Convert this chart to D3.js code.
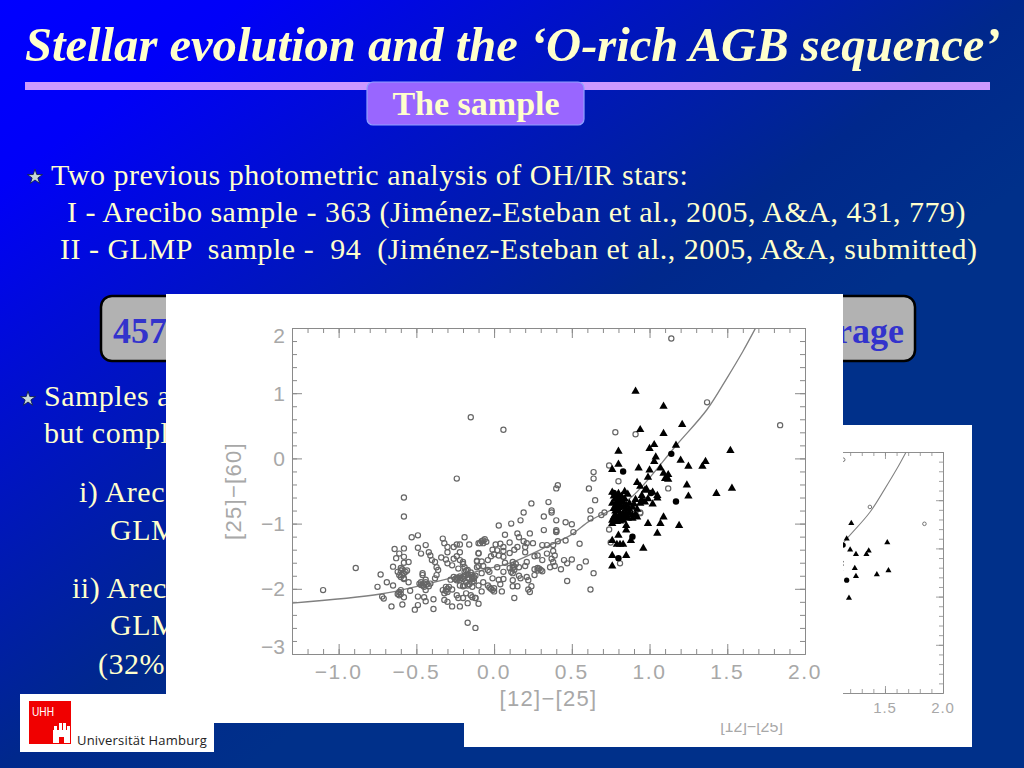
<!DOCTYPE html>
<html><head><meta charset="utf-8">
<style>html,body{margin:0;padding:0;background:#00308a;overflow:hidden}svg{display:block}</style>
<script src="https://cdn.jsdelivr.net/npm/d3@7"></script></head><body><div id="c"></div>
<script>
const openStars=[[-1.10,-2.02],[-0.89,-1.68],[-0.58,-0.89],[-0.58,-0.60],[-0.24,-0.31],[-0.15,0.63],[0.06,0.44],[1.14,1.84],[1.37,0.86],[1.84,0.51],[0.78,0.40],[0.91,0.37],[0.74,-0.11],[0.64,-0.21],[0.64,-0.31],[0.80,-0.35],[0.61,-0.46],[0.41,-0.41],[0.40,-0.46],[0.24,-0.69],[0.35,-0.67],[0.19,-0.83],[0.37,-0.80],[0.37,-0.83],[0.65,-0.64],[0.62,-0.80],[0.71,-0.83],[1.12,-0.46],[0.94,-0.83],[0.62,-0.92],[0.74,-1.09],[0.64,-1.76],[0.81,-1.61],[0.75,-1.29],[0.69,-0.87],[0.94,-0.84],[0.62,-2.01],
[-0.53,-1.21],[-0.49,-1.18],[-0.64,-1.39],[-0.58,-1.38],[-0.61,-1.46],[-0.63,-1.53],[-0.58,-1.51],[-0.55,-1.59],[-0.58,-1.60],[-0.65,-1.66],[-0.60,-1.72],[-0.57,-1.74],[-0.61,-1.79],[-0.58,-1.84],[-0.73,-1.78],[-0.69,-1.90],[-0.75,-1.97],[-0.65,-1.95],[-0.61,-2.05],[-0.72,-2.12],[-0.71,-2.15],[-0.58,-2.13],[-0.66,-2.27],[-0.59,-2.24],[-0.60,-2.08],[-0.54,-2.03],[-0.55,-1.90],[-0.49,-1.37],[-0.44,-1.33],[-0.47,-1.46],[-0.42,-1.44],[-0.41,-1.49],[-0.40,-1.56],[-0.38,-1.59],[-0.37,-1.67],[-0.36,-1.71],[-0.37,-1.79],[-0.38,-1.84],[-0.46,-1.76],[-0.46,-1.79],[-0.44,-1.86],[-0.48,-1.92],[-0.46,-1.95],[-0.42,-1.96],[-0.44,-2.02],[-0.49,-2.12],[-0.45,-2.13],[-0.44,-2.19],[-0.49,-2.25],[-0.51,-2.32],[-0.39,-2.16],[-0.39,-2.31],[-0.33,-1.23],[-0.32,-1.30],[-0.30,-1.36],[-0.26,-1.36],[-0.30,-1.44],[-0.24,-1.32],[-0.22,-1.32],[-0.19,-1.21],[-0.16,-1.32],[-0.10,-1.30],[-0.22,-1.44],[-0.24,-1.50],[-0.31,-1.55],[-0.30,-1.61],[-0.26,-1.54],[-0.27,-1.64],[-0.20,-1.59],[-0.22,-1.56],[-0.23,-1.69],[-0.19,-1.67],[-0.19,-1.74],[-0.17,-1.71],[-0.11,-1.57],[-0.10,-1.46],[-0.11,-1.67],[-0.15,-1.79],[-0.13,-1.84],[-0.17,-1.83],[-0.26,-1.82],[-0.28,-1.86],[-0.24,-1.87],[-0.22,-1.86],[-0.31,-1.97],[-0.33,-2.02],[-0.30,-2.00],[-0.32,-2.07],[-0.27,-2.01],[-0.22,-1.95],[-0.20,-1.96],[-0.17,-1.95],[-0.14,-1.97],[-0.24,-2.10],[-0.18,-2.07],[-0.15,-2.10],[-0.23,-2.14],[-0.20,-2.14],[-0.12,-2.14],[-0.32,-2.17],[-0.30,-2.20],[-0.27,-2.27],[-0.22,-2.27],[-0.17,-2.22],[-0.17,-2.52],[-0.12,-2.60],
[0.32,-0.89],[0.17,-0.95],[0.11,-1.00],[0.03,-1.03],[0.40,-0.95],[0.46,-0.98],[0.50,-1.01],[0.32,-1.10],[0.40,-1.10],[0.40,-1.12],[0.23,-1.15],[0.07,-1.17],[0.15,-1.15],[0.16,-1.21],[0.51,-1.13],[-0.06,-1.24],[-0.08,-1.27],[-0.09,-1.30],[0.10,-1.29],[0.19,-1.27],[0.21,-1.30],[0.25,-1.30],[0.01,-1.32],[0.04,-1.31],[0.06,-1.36],[0.15,-1.36],[0.13,-1.40],[0.20,-1.36],[-0.01,-1.40],[0.02,-1.41],[0.06,-1.42],[-0.10,-1.45],[0.10,-1.45],[0.00,-1.47],[0.20,-1.44],[0.31,-1.33],[0.34,-1.33],[0.38,-1.33],[0.41,-1.27],[0.46,-1.26],[0.55,-1.31],[0.38,-1.42],[0.34,-1.46],[0.39,-1.49],[0.28,-1.49],[0.31,-1.56],[0.37,-1.54],[0.38,-1.59],[0.45,-1.56],[0.50,-1.55],[0.47,-1.61],[0.59,-1.58],[0.55,-1.67],[0.39,-1.65],[0.36,-1.67],[0.28,-1.68],[0.26,-1.70],[0.30,-1.71],[0.31,-1.73],[0.26,-1.79],[0.21,-1.59],[0.20,-1.65],[0.12,-1.59],[0.12,-1.64],[0.10,-1.68],[0.13,-1.71],[0.12,-1.76],[0.16,-1.67],[0.03,-1.49],[0.06,-1.51],[-0.04,-1.56],[-0.08,-1.58],[-0.11,-1.58],[-0.10,-1.65],[-0.07,-1.65],[0.02,-1.67],[0.06,-1.74],[-0.04,-1.71],[-0.08,-1.76],[-0.03,-1.74],[-0.01,-1.84],[0.06,-1.85],[-0.14,-1.82],[-0.13,-1.88],[-0.07,-1.90],[-0.10,-1.95],[-0.04,-1.95],[0.04,-1.93],[0.12,-1.87],[0.17,-1.84],[0.21,-1.82],[0.22,-1.87],[0.12,-1.96],[0.15,-1.96],[0.24,-1.96],[0.22,-2.01],[0.23,-2.05],[-0.01,-2.02],[0.00,-1.99],[-0.08,-2.04],[0.05,-2.04],[0.47,-1.88],[0.13,-2.14],[-0.14,-2.13],[-0.12,-2.14],[-0.10,-2.23],
[-0.60,-1.68],[-0.59,-1.70],[-0.62,-1.74],[-0.58,-1.76],[-0.59,-1.79],[-0.60,-1.82],[-0.56,-1.72],[-0.47,-1.90],[-0.45,-1.92],[-0.43,-1.93],[-0.44,-1.90],[-0.47,-1.94],[-0.45,-1.97],[-0.41,-1.92],[-0.24,-1.83],[-0.23,-1.84],[-0.21,-1.83],[-0.20,-1.85],[-0.25,-1.85],[-0.22,-1.81],[-0.18,-1.72],[-0.17,-1.78],[-0.16,-1.85],[-0.18,-1.90],[-0.16,-1.93],[-0.15,-1.75],[-0.19,-1.80],[-0.14,-1.90],[-0.19,-1.95],[-0.20,-1.62],[-0.60,-2.02],[-0.62,-2.08],[-0.61,-2.10],[-0.30,-2.05],[-0.31,-2.03],[-0.29,-1.97],[-0.34,-1.52],[-0.07,-1.26],[-0.05,-1.28],[-0.07,-1.30],[0.13,-1.66],[0.12,-1.68],[0.14,-1.62],[0.11,-1.74],[-0.13,-1.82],[-0.14,-1.85],[-0.12,-1.80],[-0.02,-2.00],[0.00,-2.04],[-0.03,-1.98],[0.40,-1.13],[0.28,-1.72],[0.29,-1.69],[-0.58,-1.85],[0.03,-1.86],[0.16,-1.80],[0.07,-1.60],[-0.02,-1.50],[0.26,-1.50],[0.43,-1.70]];
const triangleStars=[[0.91,1.03],[1.09,0.80],[1.21,0.52],[0.94,0.44],[1.09,0.38],[1.17,0.20],[1.03,0.21],[1.00,0.15],[0.80,0.11],[1.52,0.12],[1.04,0.02],[1.03,-0.05],[1.20,-0.03],[1.36,-0.05],[1.34,-0.12],[1.25,-0.12],[0.80,-0.09],[0.76,-0.17],[0.93,-0.15],[1.00,-0.18],[1.07,-0.15],[0.99,-0.29],[1.09,-0.23],[1.12,-0.25],[1.10,-0.31],[1.12,-0.32],[0.92,-0.37],[0.94,-0.43],[1.24,-0.41],[1.53,-0.46],[1.43,-0.54],[1.25,-0.58],[0.84,-0.51],[0.98,-0.47],[0.86,-0.55],[0.76,-0.52],[0.77,-0.58],[0.80,-0.54],[0.97,-0.49],[1.02,-0.52],[1.05,-0.57],[1.05,-0.61],[0.95,-0.57],[0.91,-0.63],[0.97,-0.67],[1.02,-0.70],[0.76,-0.69],[0.78,-0.73],[0.81,-0.63],[0.83,-0.67],[0.81,-0.72],[0.85,-0.72],[0.87,-0.69],[0.89,-0.75],[0.94,-0.69],[0.85,-0.78],[0.80,-0.80],[0.83,-0.84],[0.78,-0.87],[0.80,-0.90],[0.82,-0.90],[0.84,-0.90],[0.86,-0.92],[0.89,-0.87],[0.89,-0.92],[0.92,-0.90],[0.76,-0.95],[0.79,-0.97],[0.76,-1.00],[0.85,-1.03],[0.85,-1.10],[0.99,-1.00],[1.07,-1.00],[1.09,-0.90],[1.19,-1.03],[1.05,-1.15],[0.88,-1.26],[0.80,-1.18],[0.76,-1.26],[0.79,-1.32],[0.81,-1.32],[0.83,-1.32],[0.96,-1.38],[0.76,-1.49],[0.85,-1.49],[0.76,-1.65],
[0.78,-0.62],[0.79,-0.66],[0.77,-0.77],[0.80,-0.76],[0.83,-0.75],[0.84,-0.62],[0.87,-0.78],[0.81,-0.85],[0.85,-0.85],[0.79,-0.93],[0.83,-0.95],[0.77,-0.90],[0.90,-0.70],[0.92,-0.78],[0.82,-0.58],[0.78,-0.81],[0.87,-0.84],[0.91,-0.86],[0.81,-0.96],[0.95,-0.63],[0.99,-0.62]];
const filledStars=[[1.14,0.07],[0.83,-0.20],[1.17,-0.66],[0.77,-0.53],[0.80,-0.60],[1.01,-0.53],[0.89,-1.20],[0.80,-1.53],[0.79,-0.70]];
const curveX=[-1.30,-0.73,-0.475,-0.07,0.12,0.36,0.49,0.62,0.745,0.89,1.175,1.37,1.50,1.60,1.68];
const curveY=[-2.22,-2.08,-1.95,-1.71,-1.59,-1.33,-1.18,-0.95,-0.80,-0.58,0.21,0.75,1.24,1.64,1.99];
const xTicks=[-1.0,-0.5,0.0,0.5,1.0,1.5,2.0];
const yTicks=[-3,-2,-1,0,1,2];
const backXTicks=[1.5,2.0];
const xMinor=d3.range(-13,21).map(d=>d/10);
const yMinor=d3.range(-15,11).map(d=>d/5);
const titleText="Stellar evolution and the ‘O-rich AGB sequence’";
const bodyLines=[["Two previous photometric analysis of OH/IR stars:",51,185],["I - Arecibo sample - 363 (Jiménez-Esteban et al., 2005, A&A, 431, 779)",67,222],["II - GLMP  sample -  94  (Jiménez-Esteban et al., 2005, A&A, submitted)",60,259],["Samples a",44,406],["but compl",44,443],["i) Arec",79,502],["GLM",110,540],["ii) Arec",72,598],["GLM",110,635],["(32%",98,674]];

const svg=d3.select("#c").append("svg").attr("width",1024).attr("height",768);
const defs=svg.append("defs");
const g=defs.append("linearGradient").attr("id","bg").attr("x1",0).attr("y1",0).attr("x2",1).attr("y2",1);
[[0,"#0000ff"],[0.12,"#0000f8"],[0.5,"#00288c"],[0.62,"#00308a"],[1,"#00308a"]].forEach(s=>g.append("stop").attr("offset",s[0]).attr("stop-color",s[1]));
svg.append("rect").attr("width",1024).attr("height",768).attr("fill","url(#bg)");
const cream="#FFFFCC",serif="'Liberation Serif',serif";
svg.append("text").text(titleText).attr("x",25).attr("y",61).attr("font-family",serif).attr("font-weight","bold").attr("font-style","italic").attr("font-size",48.6).attr("fill",cream);
svg.append("rect").attr("x",25).attr("y",82).attr("width",965).attr("height",8).attr("fill","#CC99FF");
svg.append("rect").attr("x",367).attr("y",82).attr("width",217).attr("height",43).attr("rx",6).attr("fill","#9966FF").attr("stroke","#8FA0FF").attr("stroke-width",1.2);
svg.append("text").text("The sample").attr("x",476).attr("y",115).attr("text-anchor","middle").attr("font-family",serif).attr("font-weight","bold").attr("font-size",34).attr("fill",cream);
svg.selectAll("text.body").data(bodyLines).join("text").attr("class","body").text(d=>d[0]).attr("x",d=>d[1]).attr("y",d=>d[2]).attr("xml:space","preserve").style("white-space","pre").attr("font-family",serif).attr("font-size",30).attr("letter-spacing",0.5).attr("fill",cream);
svg.append("rect").attr("x",101).attr("y",296).attr("width",814).attr("height",65).attr("rx",11).attr("fill","#B2B2B2").attr("stroke","#000").attr("stroke-width",2.5);
svg.append("text").text("457").attr("x",113).attr("y",343).attr("font-family",serif).attr("font-weight","bold").attr("font-size",36).attr("fill","#3333CC");
svg.append("text").text("rage").attr("x",904).attr("y",343).attr("text-anchor","end").attr("font-family",serif).attr("font-weight","bold").attr("font-size",36).attr("fill","#3333CC");
[[35,177],[28,399]].forEach(p=>{
  svg.append("path").attr("d",d3.symbol(d3.symbolStar,70)).attr("transform",`translate(${p[0]},${p[1]})`).attr("fill","#c8d8d8").attr("stroke","#102050").attr("stroke-width",0.9);
});

function plot(o){
  const p=svg.append("g");
  p.append("rect").attr("x",o.rx).attr("y",o.ry).attr("width",o.rw).attr("height",o.rh).attr("fill","#fff");
  const x=d3.scaleLinear().domain([-1.3,2.0]).range([o.l,o.r]);
  const y=d3.scaleLinear().domain([-3,2]).range([o.b,o.t]);
  const cid="clip"+o.id;
  defs.append("clipPath").attr("id",cid).append("rect").attr("x",o.l).attr("y",o.t).attr("width",o.r-o.l).attr("height",o.b-o.t);
  const axisCol="#8a8a8a",lab="#a8a8a8",sans="'Liberation Sans',sans-serif";
  function ax(gen,tx,vals,size){
    const a=p.append("g").attr("transform",tx).call(gen.tickValues(vals).tickSize(size).tickSizeOuter(0).tickFormat(""));
    a.selectAll("path,line").attr("stroke",axisCol).attr("stroke-width",o.sw);
    return a;
  }
  const fx=d=>d3.format(".1f")(d).replace("-","\u2212"),fy=d=>String(d).replace("-","\u2212");
  ax(d3.axisBottom(x),`translate(0,${o.b})`,xMinor,-o.mn);
  ax(d3.axisBottom(x),`translate(0,${o.b})`,xTicks,-o.mj);
  ax(d3.axisTop(x),`translate(0,${o.t})`,xMinor,-o.mn);
  ax(d3.axisTop(x),`translate(0,${o.t})`,xTicks,-o.mj);
  ax(d3.axisLeft(y),`translate(${o.l},0)`,yMinor,-o.mn);
  ax(d3.axisLeft(y),`translate(${o.l},0)`,yTicks,-o.mj);
  ax(d3.axisRight(y),`translate(${o.r},0)`,yMinor,-o.mn);
  ax(d3.axisRight(y),`translate(${o.r},0)`,yTicks,-o.mj);
  const lx=p.append("g"),ly=p.append("g");
  lx.selectAll("text").data(o.xLabels).join("text").text(fx).attr("x",d=>x(d)).attr("y",o.b+o.fs+o.xpad).attr("text-anchor","middle").attr("fill",lab).attr("font-family",sans).attr("font-size",o.fs).attr("letter-spacing",o.ls);
  ly.selectAll("text").data(o.yLabels).join("text").text(fy).attr("x",o.l-7).attr("y",d=>Math.min(o.b-8,Math.max(o.t+7,y(d)))+o.fs*0.36).attr("text-anchor","end").attr("fill",lab).attr("font-family",sans).attr("font-size",o.fs);
  p.append("text").text("[12]\u2212[25]").attr("x",(o.l+o.r)/2).attr("y",o.b+o.tpad).attr("text-anchor","middle").attr("fill",lab).attr("font-family",sans).attr("font-size",o.tfs).attr("letter-spacing",o.tls);
  if(o.yTitle) p.append("text").text("[25]\u2212[60]").attr("transform",`translate(${o.l-o.ypad},${(o.t+o.b)/2}) rotate(-90)`).attr("text-anchor","middle").attr("fill",lab).attr("font-family",sans).attr("font-size",o.tfs).attr("letter-spacing",o.tls);
  const line=d3.line().x(d=>x(d[0])).y(d=>y(d[1])).curve(d3.curveCatmullRom);
  p.append("path").datum(curveX.map((v,i)=>[v,curveY[i]])).attr("d",line).attr("fill","none").attr("stroke","#808080").attr("stroke-width",o.sw*1.3).attr("clip-path",`url(#${cid})`);
  p.selectAll("circle.o").data(openStars).join("circle").attr("class","o").attr("cx",d=>x(d[0])).attr("cy",d=>y(d[1])).attr("r",o.cr).attr("fill","none").attr("stroke","#666").attr("stroke-width",o.csw);
  p.selectAll("circle.f").data(filledStars).join("circle").attr("class","f").attr("cx",d=>x(d[0])).attr("cy",d=>y(d[1])).attr("r",o.fr).attr("fill","#000");
  p.selectAll("path.t").data(triangleStars).join("path").attr("class","t").attr("d",d3.symbol(d3.symbolTriangle,o.ts)).attr("transform",d=>`translate(${x(d[0])},${y(d[1])})`).attr("fill","#000");
}
plot({id:"b",rx:464,ry:425,rw:508,rh:322,l:560,r:943,t:452,b:693,mj:7,mn:4,sw:0.8,csw:0.9,fs:15,ls:0.8,tfs:16,tls:0,xpad:5,tpad:39,ypad:45,cr:1.8,fr:2.6,ts:16,xLabels:backXTicks,yLabels:[],yTitle:false});
plot({id:"a",rx:166,ry:294,rw:677,rh:429,l:292,r:805,t:328,b:654,mj:10,mn:5,sw:1,csw:1.2,fs:21,ls:1.6,tfs:22,tls:1.3,xpad:4,tpad:52,ypad:51,cr:2.6,fr:3.2,ts:30,xLabels:xTicks,yLabels:yTicks,yTitle:true});

const logo=svg.append("g");
logo.append("rect").attr("x",20).attr("y",694).attr("width",194).attr("height",58).attr("fill","#fff");
logo.append("rect").attr("x",29).attr("y",701).attr("width",42).attr("height",43).attr("fill","#F00000");
logo.append("text").text("UHH").attr("x",32).attr("y",716).attr("font-family","'Liberation Sans',sans-serif").attr("font-size",12).attr("textLength",22).attr("lengthAdjust","spacingAndGlyphs").attr("fill","#fff");
[[53,730,17,13],[54,726,3,5],[59,723,3,8],[63,723,3,8],[67,726,3,5]].forEach(r=>logo.append("rect").attr("x",r[0]).attr("y",r[1]).attr("width",r[2]).attr("height",r[3]).attr("fill","#fff"));
logo.append("rect").attr("x",59).attr("y",737).attr("width",5).attr("height",6).attr("fill","#F00000");
logo.append("text").text("Universität Hamburg").attr("x",77).attr("y",745).attr("font-family","'Open Sans',sans-serif").attr("font-size",13).attr("letter-spacing",0.2).attr("fill","#222");
</script></body></html>
